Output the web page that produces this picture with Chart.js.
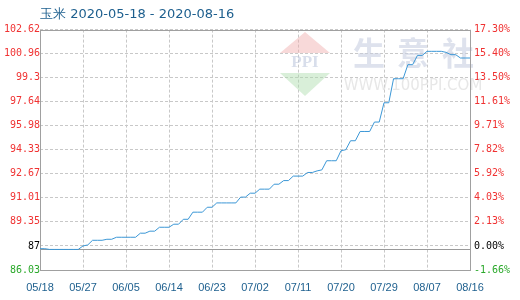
<!DOCTYPE html>
<html>
<head>
<meta charset="utf-8">
<script src="https://cdn.jsdelivr.net/npm/chart.js@4/dist/chart.umd.min.js"></script>
<style>
html,body{margin:0;padding:0;background:#fff;}
#wrap{width:520px;height:300px;}
</style>
</head>
<body>
<div id="wrap"><canvas id="c" width="520" height="300"></canvas></div>
<script>
const titleText = '玉米 2020-05-18 - 2020-08-16';
const dates = [
 '05/18','05/19','05/20','05/21','05/22','05/23','05/24','05/25','05/26','05/27','05/28','05/29','05/30','05/31',
 '06/01','06/02','06/03','06/04','06/05','06/06','06/07','06/08','06/09','06/10','06/11','06/12','06/13','06/14','06/15',
 '06/16','06/17','06/18','06/19','06/20','06/21','06/22','06/23','06/24','06/25','06/26','06/27','06/28','06/29','06/30',
 '07/01','07/02','07/03','07/04','07/05','07/06','07/07','07/08','07/09','07/10','07/11','07/12','07/13','07/14','07/15',
 '07/16','07/17','07/18','07/19','07/20','07/21','07/22','07/23','07/24','07/25','07/26','07/27','07/28','07/29','07/30','07/31',
 '08/01','08/02','08/03','08/04','08/05','08/06','08/07','08/08','08/09','08/10','08/11','08/12','08/13','08/14','08/15','08/16'
];
const prices = [
 87.50,87.50,
 87.45,87.45,87.45,87.45,87.45,87.45,87.45,
 87.69,87.76,
 88.08,88.08,88.08,
 88.15,88.15,
 88.29,88.29,88.29,88.29,88.29,
 88.57,88.57,
 88.71,88.71,
 88.98,88.98,88.98,
 89.19,89.19,
 89.53,89.53,
 90.02,90.02,90.02,
 90.36,90.36,
 90.66,90.66,90.66,90.66,90.66,
 91.06,91.06,
 91.33,91.33,
 91.61,91.61,91.61,
 91.95,91.95,
 92.20,92.20,
 92.51,92.51,92.51,
 92.76,92.76,
 92.87,92.94,
 93.57,93.57,93.57,
 94.26,94.33,
 94.95,94.95,
 95.59,95.59,95.59,
 96.24,96.24,
 97.57,97.57,
 99.23,99.23,99.23,
 100.20,100.20,
 100.84,100.84,
 101.12,101.12,101.12,101.12,
 101.05,
 100.89,100.89,
 100.66,100.66,100.66
];
const yTickValues = [86.03,87.69,89.35,91.01,92.67,94.33,95.98,97.64,99.30,100.96,102.62];
const leftTickLabels = ['86.03','87','89.35','91.01','92.67','94.33','95.98','97.64','99.3','100.96','102.62'];
const rightTickLabels = ['-1.66%','0.00%','2.13%','4.03%','5.92%','7.82%','9.71%','11.61%','13.50%','15.40%','17.30%'];
const xTickEvery = 9;

const RED = '#f03232', GREEN = '#2aa82a', BLACK = '#000000';
const tickColor = (ctx) => ctx.index === 0 ? GREEN : (ctx.index === 1 ? BLACK : RED);
const monoFont = {family: '"DejaVu Sans Mono", monospace', size: 10};

const decorPlugin = {
  id: 'decor',
  beforeDatasetsDraw(chart) {
    const {ctx, chartArea: a, scales} = chart;
    ctx.save();
    // watermark logo
    ctx.fillStyle = 'rgba(240,170,170,0.45)';
    ctx.beginPath(); ctx.moveTo(305, 32); ctx.lineTo(330, 53); ctx.lineTo(280, 53); ctx.closePath(); ctx.fill();
    ctx.fillStyle = 'rgba(170,220,170,0.45)';
    ctx.beginPath(); ctx.moveTo(280, 73); ctx.lineTo(330, 73); ctx.lineTo(305, 96); ctx.closePath(); ctx.fill();
    ctx.fillStyle = 'rgba(190,200,222,0.6)';
    ctx.font = 'bold 17px "Liberation Serif", serif';
    ctx.textAlign = 'center'; ctx.textBaseline = 'middle';
    ctx.fillText('PPI', 305, 63);
    ctx.font = 'bold 32px "Noto Sans CJK SC", sans-serif';
    ctx.fillStyle = 'rgba(200,206,225,0.6)';
    const chars = ['生','意','社'];
    [369, 413, 458].forEach((x, i) => ctx.fillText(chars[i], x, 53));
    ctx.font = '15px "DejaVu Sans", sans-serif';
    ctx.fillStyle = 'rgba(215,215,215,0.6)';
    ctx.fillText('WWW.100PPI.COM', 413, 86);
    // base line at first value
    const yb = Math.round(scales.y.getPixelForValue(prices[0])) + 0.5;
    ctx.strokeStyle = '#9a9a9a'; ctx.lineWidth = 1;
    ctx.beginPath(); ctx.moveTo(a.left, yb); ctx.lineTo(a.right, yb); ctx.stroke();
    // frame
    ctx.strokeStyle = '#a0a0a0';
    ctx.strokeRect(Math.round(a.left) + 0.5, Math.round(a.top) + 0.5, Math.round(a.right - a.left), Math.round(a.bottom - a.top));
    ctx.restore();
  }
};

new Chart(document.getElementById('c'), {
  type: 'line',
  data: {
    labels: dates,
    datasets: [{
      data: prices,
      borderColor: '#3b97d6',
      borderWidth: 1,
      pointRadius: 0,
      tension: 0,
      fill: false
    }]
  },
  options: {
    responsive: false,
    animation: false,
    events: [],
    layout: {padding: {left: 0, right: 0, top: 0, bottom: 0}},
    plugins: {
      legend: {display: false},
      tooltip: {enabled: false},
      title: {
        display: true,
        text: titleText,
        align: 'start',
        fullSize: false,
        color: '#1d5f8e',
        font: {family: '"DejaVu Sans", sans-serif', size: 13, weight: 'normal'},
        padding: {top: 7, bottom: 7}
      }
    },
    scales: {
      x: {
        type: 'category',
        offset: false,
        grid: {color: '#c8c8c8', drawTicks: false},
        border: {display: false, dash: [3, 2]},
        afterBuildTicks: (s) => { s.ticks = s.ticks.filter((t, i) => i % xTickEvery === 0); },
        afterFit: (s) => { s.height = 30; },
        ticks: {
          autoSkip: false, maxRotation: 0, padding: 11,
          color: '#1d5f8e',
          font: {family: '"Liberation Sans", sans-serif', size: 11},
          callback: function(v) { return this.getLabelForValue(v); }
        }
      },
      y: {
        position: 'left',
        min: yTickValues[0], max: yTickValues[yTickValues.length - 1],
        grid: {color: '#c8c8c8', drawTicks: false},
        border: {display: false, dash: [3, 2]},
        afterBuildTicks: (s) => { s.ticks = yTickValues.map(v => ({value: v})); },
        afterFit: (s) => { s.width = 40; },
        ticks: {
          padding: 0, color: tickColor, font: monoFont,
          callback: (v, i) => leftTickLabels[i]
        }
      },
      y2: {
        position: 'right',
        min: yTickValues[0], max: yTickValues[yTickValues.length - 1],
        grid: {display: false, drawTicks: false},
        border: {display: false},
        afterBuildTicks: (s) => { s.ticks = yTickValues.map(v => ({value: v})); },
        afterFit: (s) => { s.width = 50; },
        ticks: {
          padding: 4, color: tickColor, font: monoFont,
          callback: (v, i) => rightTickLabels[i]
        }
      }
    }
  },
  plugins: [decorPlugin]
});
</script>
</body>
</html>
